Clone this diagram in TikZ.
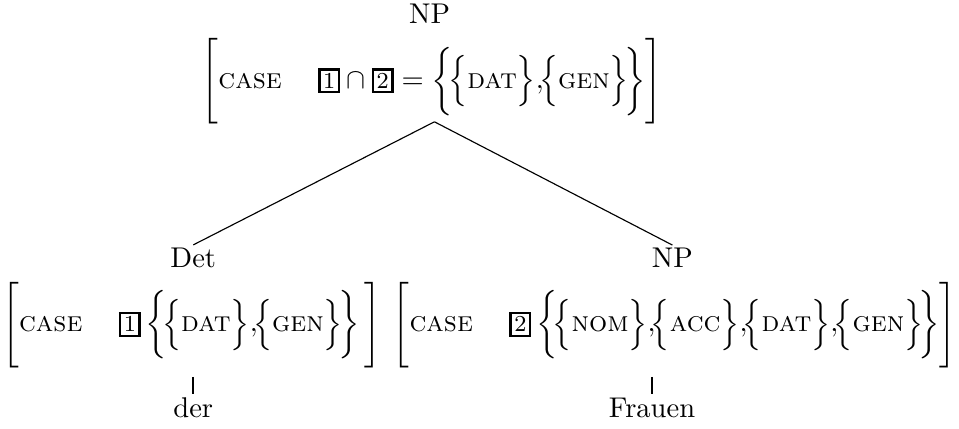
\documentclass[tikz,border=0pt]{standalone}
\newcommand{\tagbox}[1]{{\setlength{\fboxsep}{0.9pt}\setlength{\fboxrule}{0.8pt}\fbox{\footnotesize #1}}}
\newcommand{\feat}[1]{\mbox{\textsc{#1}}}
\newcommand{\cset}[1]{\Bigl\{\feat{#1}\Bigr\}}
\begin{document}
\begin{tikzpicture}
		\useasboundingbox (0,0) rectangle (11.81,5.28);
		\begin{scope}[every node/.style={inner sep=1pt}]
			\node (NPtop) at (5.29,5.11) {NP};
			\node (avmtop) at (5.32,4.28) {$\Biggl[\feat{case}\quad\;\tagbox{1}\cap\tagbox{2}=\biggl\{\!\cset{dat}{,}\!\cset{gen}\!\biggr\}\Biggr]$};
			\node (Det) at (2.38,2.10) {Det};
			\node (NP) at (8.28,2.10) {NP};
			\node (avmdet) at (2.36,1.28) {$\Biggl[\feat{case}\quad\;\tagbox{1}\,\biggl\{\!\cset{dat}{,}\!\cset{gen}\!\biggr\}\,\Biggr]$};
			\node (avmnp) at (8.31,1.28) {$\Biggl[\feat{case}\quad\;\tagbox{2}\,\biggl\{\!\cset{nom}{,}\!\cset{acc}{,}\!\cset{dat}{,}\!\cset{gen}\!\biggr\}\Biggr]$};
			\node (der) at (2.38,0.26) {der};
			\node (Frauen) at (8.03,0.26) {Frauen};
		\end{scope}
		\coordinate (apex) at (5.35,3.78);
		
		\path (apex) edge (Det.north);
		\path (apex) edge (NP.north);
		\path [semithick,shorten <=2pt] (der.north |- avmdet.south) edge (der.north);
		\path [semithick,shorten <=2pt] (Frauen.north |- avmnp.south) edge (Frauen.north);
		\end{tikzpicture}
\end{document}
